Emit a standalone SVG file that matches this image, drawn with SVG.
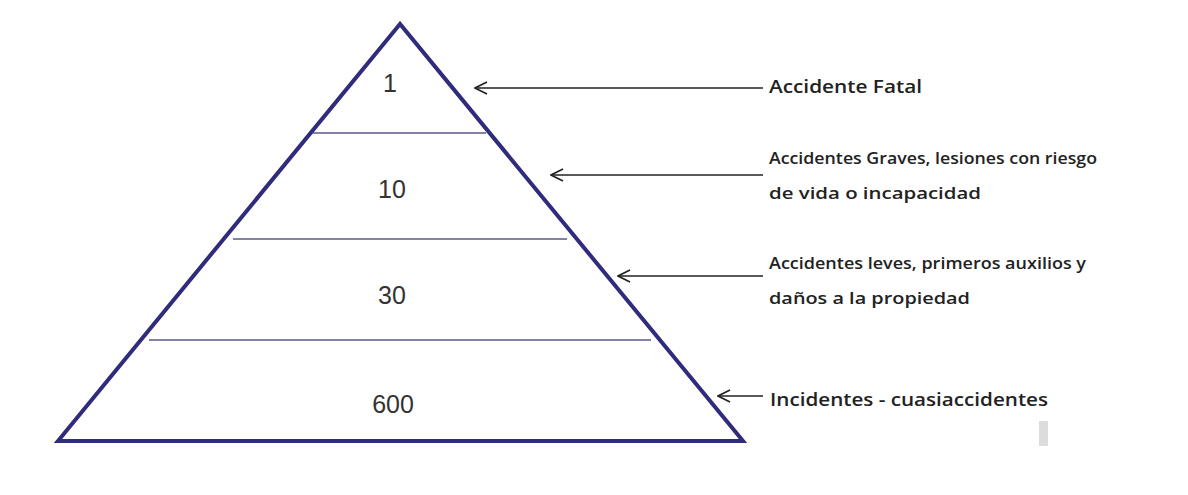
<svg xmlns="http://www.w3.org/2000/svg" width="1188" height="495" viewBox="0 0 1188 495">
<defs>
<style>
.tri{fill:none;stroke:#2f2c7c;stroke-width:4;stroke-linejoin:miter}
.div{stroke:#5a5a8c;stroke-width:1.6}
.num{font-family:"Liberation Sans",Arial,sans-serif;font-size:25px;fill:#333;text-anchor:middle}
.lbl{font-family:"Open Sans","Liberation Sans",sans-serif;font-size:17px;font-weight:600;fill:#222}
.big{font-size:18px}
.arr{stroke:#222;stroke-width:1.6;fill:none}
</style>
<marker id="ah" viewBox="0 0 14 14" refX="13" refY="7" markerWidth="14" markerHeight="14" markerUnits="userSpaceOnUse" orient="auto">
<path d="M1,1 L13,7 L1,13" fill="none" stroke="#222" stroke-width="1.7"/>
</marker>
</defs>
<rect width="1188" height="495" fill="#fff"/>
<g id="pyramid">
<path class="tri" d="M400,24 L58,441 L743,441 Z"/>
<line class="div" x1="313" y1="133" x2="486" y2="133"/>
<line class="div" x1="233" y1="239" x2="567" y2="239"/>
<line class="div" x1="149" y1="340" x2="651" y2="340"/>
</g>
<g id="level1"><text class="num" x="390" y="92">1</text></g>
<g id="level10"><text class="num" x="392" y="198">10</text></g>
<g id="level30"><text class="num" x="392" y="304">30</text></g>
<g id="level600"><text class="num" x="393" y="413">600</text></g>
<g id="connectors">
<line class="arr" x1="763" y1="88" x2="475" y2="88" marker-end="url(#ah)"/>
<line class="arr" x1="763" y1="175" x2="551" y2="175" marker-end="url(#ah)"/>
<line class="arr" x1="763" y1="276" x2="618" y2="276" marker-end="url(#ah)"/>
<line class="arr" x1="763" y1="396" x2="718" y2="396" marker-end="url(#ah)"/>
</g>
<g id="label1"><text class="lbl big" x="769" y="93" textLength="153" lengthAdjust="spacingAndGlyphs">Accidente Fatal</text></g>
<g id="label2"><text class="lbl" x="769" y="164" textLength="328" lengthAdjust="spacingAndGlyphs">Accidentes Graves, lesiones con riesgo</text><text class="lbl" x="769" y="199" textLength="212" lengthAdjust="spacingAndGlyphs">de vida o incapacidad</text></g>
<g id="label3"><text class="lbl" x="769" y="269" textLength="317" lengthAdjust="spacingAndGlyphs">Accidentes leves, primeros auxilios y</text><text class="lbl" x="769" y="304" textLength="201" lengthAdjust="spacingAndGlyphs">daños a la propiedad</text></g>
<g id="label4"><text class="lbl big" x="770" y="406" textLength="278" lengthAdjust="spacingAndGlyphs">Incidentes - cuasiaccidentes</text></g>
<rect x="1039" y="421" width="9" height="25" fill="#dcdcdc"/>
</svg>
